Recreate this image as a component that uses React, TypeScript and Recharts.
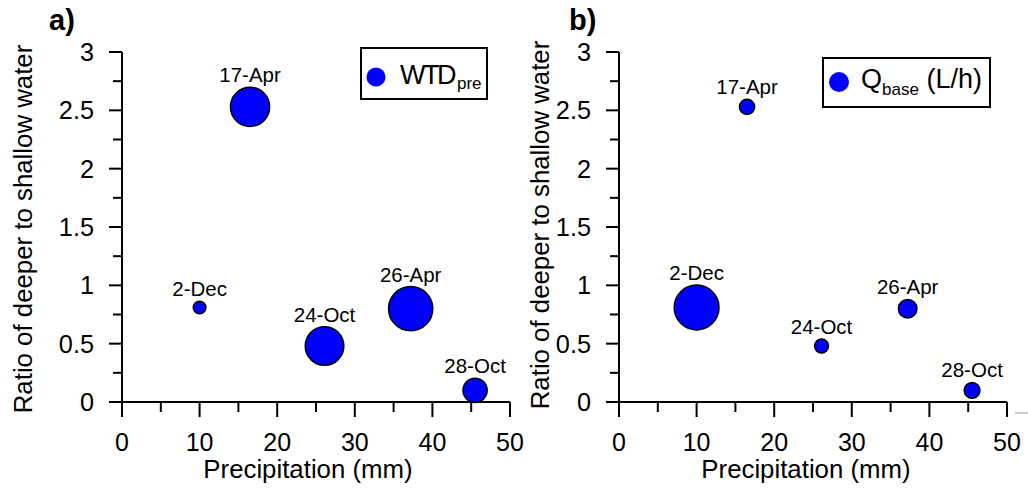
import { Legend, LabelList, Scatter, ScatterChart, XAxis, YAxis, ZAxis } from 'recharts';

const dates = ['17-Apr', '2-Dec', '24-Oct', '26-Apr', '28-Oct'];
const precipitation = [16.5, 10.0, 26.1, 37.2, 45.5];
const ratio = [2.53, 0.81, 0.48, 0.8, 0.1];
// bubble areas (relative units)
const wtdPreSize = [384, 40, 372, 488, 146];
const qBaseSize = [58, 502, 48, 86, 62];

const xTicks = [0, 5, 10, 15, 20, 25, 30, 35, 40, 45, 50];
const yTicks = [0, 0.25, 0.5, 0.75, 1, 1.25, 1.5, 1.75, 2, 2.25, 2.5, 2.75, 3];

const FONT = 'Arial, "Liberation Sans", sans-serif';
const H = 488;
const TOP = 52;
const AXIS_H = 86;
const PLOT_W = 388;

const renderXTick = (p: any) => {
  const { x, y, payload } = p;
  const major = payload.value % 10 === 0;
  return (
    <g>
      <line x1={x} x2={x} y1={y} y2={y + (major ? 15 : 10)} stroke="#000" strokeWidth={2} />
      {major && (
        <text x={x} y={y + 49} textAnchor="middle" fontSize={25} fill="#000">
          {payload.value}
        </text>
      )}
    </g>
  );
};

const renderYTick = (p: any) => {
  const { x, y, payload } = p;
  const major = Math.abs(payload.value * 2 - Math.round(payload.value * 2)) < 1e-6;
  return (
    <g>
      <line x1={x} x2={x - (major ? 13 : 9)} y1={y} y2={y} stroke="#000" strokeWidth={2} />
      {major && (
        <text x={x - 28} y={y + 9} textAnchor="end" fontSize={25.3} fill="#000">
          {payload.value}
        </text>
      )}
    </g>
  );
};

function WtdLegend() {
  return (
    <svg width={128} height={53} style={{ display: 'block' }}>
      <rect x={1} y={1} width={126} height={51} fill="#fff" stroke="#000" strokeWidth={2} />
      <circle cx={16} cy={30} r={9.5} fill="#0000FF" />
      <text x={40} y={37} fontSize={27} fill="#000" fontFamily={FONT}>
        <tspan letterSpacing={-2.5}>WTD</tspan>
        <tspan fontSize={17} dx={3} dy={5}>pre</tspan>
      </text>
    </svg>
  );
}

function QLegend() {
  return (
    <svg width={169} height={51} style={{ display: 'block' }}>
      <rect x={1} y={1} width={167} height={49} fill="#fff" stroke="#000" strokeWidth={2} />
      <circle cx={17} cy={25} r={10} fill="#0000FF" />
      <text x={39} y={31} fontSize={27} fill="#000" fontFamily={FONT}>
        Q
        <tspan fontSize={17} dy={7}>base</tspan>
        <tspan dy={-7}> (L/h)</tspan>
      </text>
    </svg>
  );
}

type PanelProps = {
  name: string;
  sizes: number[];
  yAxisWidth: number;
  yTitleX: number;
  yTitleDy: number;
  xTitleDx: number;
  legendPos: { left: number; top: number; width: number; height: number };
  legend: JSX.Element;
};

function Panel({ name, sizes, yAxisWidth, yTitleX, yTitleDy, xTitleDx, legendPos, legend }: PanelProps) {
  const data = dates.map((d, i) => ({ date: d, x: precipitation[i], y: ratio[i], z: sizes[i] }));
  const marginRight = 30;
  const width = yAxisWidth + PLOT_W + marginRight;
  const plotH = H - TOP - AXIS_H;

  return (
    <ScatterChart
      width={width}
      height={H}
      margin={{ top: TOP, right: marginRight, bottom: 0, left: 0 }}
      style={{ fontFamily: FONT }}
    >
      <XAxis
        type="number"
        dataKey="x"
        domain={[0, 50]}
        ticks={xTicks}
        interval={0}
        height={AXIS_H}
        tickSize={0}
        tickMargin={0}
        tickLine={false}
        axisLine={{ stroke: '#000', strokeWidth: 2 }}
        tick={renderXTick}
        label={() => (
          <text
            x={yAxisWidth + PLOT_W / 2 + xTitleDx}
            y={TOP + plotH + 75.5}
            textAnchor="middle"
            fontSize={25.8}
            fill="#000"
          >
            Precipitation (mm)
          </text>
        )}
      />
      <YAxis
        type="number"
        dataKey="y"
        domain={[0, 3]}
        ticks={yTicks}
        interval={0}
        width={yAxisWidth}
        tickSize={0}
        tickMargin={0}
        tickLine={false}
        axisLine={{ stroke: '#000', strokeWidth: 2 }}
        tick={renderYTick}
        label={() => {
          const cy = TOP + plotH / 2 + yTitleDy;
          return (
            <text
              x={yTitleX}
              y={cy}
              transform={`rotate(-90, ${yTitleX}, ${cy})`}
              textAnchor="middle"
              fontSize={25.8}
              fill="#000"
            >
              Ratio of deeper to shallow water
            </text>
          );
        }}
      />
      <ZAxis type="number" dataKey="z" domain={[0, 1000]} range={[0, 1000 * Math.PI]} />
      <Legend
        layout="vertical"
        align="center"
        verticalAlign="middle"
        wrapperStyle={legendPos}
        content={() => legend}
      />
      <Scatter
        name={name}
        data={data}
        fill="#0000FF"
        stroke="#000"
        strokeWidth={1.5}
        isAnimationActive={false}
      >
        <LabelList dataKey="date" position="top" offset={5} fill="#000" fontSize={20.5} />
      </Scatter>
    </ScatterChart>
  );
}

export default function App() {
  return (
    <div style={{ position: 'absolute', left: 0, top: 0, width: 1028, height: 488, background: '#fff', fontFamily: FONT }}>
      <div style={{ position: 'absolute', left: 0, top: 0 }}>
        <Panel
          name="WTDpre"
          sizes={wtdPreSize}
          yAxisWidth={122}
          yTitleX={31.5}
          yTitleDy={2}
          xTitleDx={-8}
          legendPos={{ left: 360, top: 47, width: 128, height: 53 }}
          legend={<WtdLegend />}
        />
      </div>
      <div style={{ position: 'absolute', left: 514, top: 0 }}>
        <Panel
          name="Qbase (L/h)"
          sizes={qBaseSize}
          yAxisWidth={105}
          yTitleX={35}
          yTitleDy={-2}
          xTitleDx={-7}
          legendPos={{ left: 308, top: 57, width: 169, height: 51 }}
          legend={<QLegend />}
        />
      </div>
      <svg
        width={1028}
        height={488}
        style={{ position: 'absolute', left: 0, top: 0, pointerEvents: 'none' }}
      >
        <text x={49} y={30} fontSize={29} fontWeight="bold" fill="#000" fontFamily={FONT}>a)</text>
        <text x={569} y={30} fontSize={29} fontWeight="bold" fill="#000" fontFamily={FONT}>b)</text>
        <line x1={1015} x2={1028} y1={413} y2={413} stroke="#b8b8b8" strokeWidth={1.5} />
      </svg>
    </div>
  );
}
